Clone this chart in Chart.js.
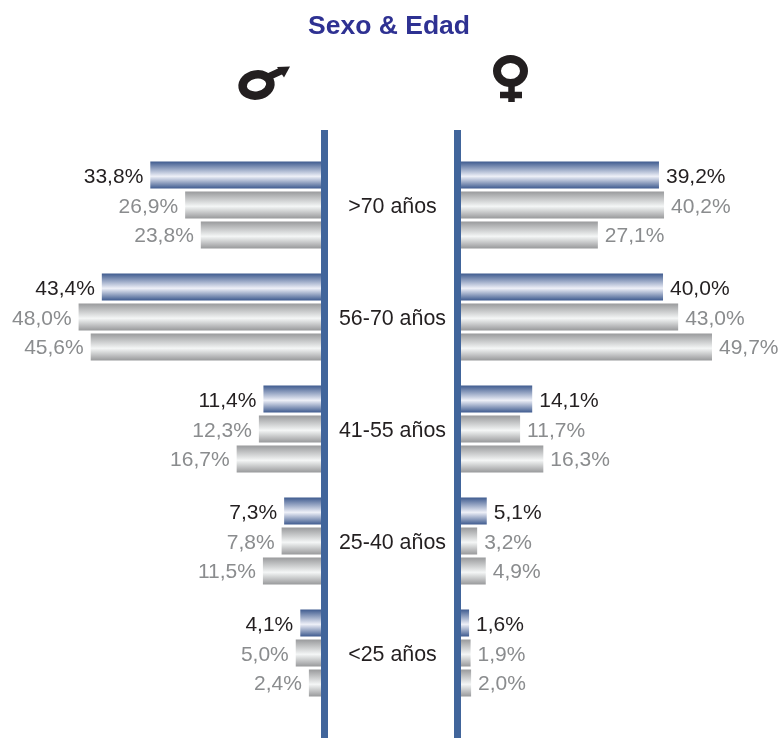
<!DOCTYPE html>
<html>
<head>
<meta charset="utf-8">
<script src="https://cdn.jsdelivr.net/npm/chart.js@4/dist/chart.umd.min.js"></script>
<style>
    html, body { margin: 0; padding: 0; background: #fff; }
    #page { position: relative; width: 782px; height: 738px; overflow: hidden; }
    #title {
        position: absolute; left: 0; width: 778px; top: 10px; text-align: center;
        font: bold 26.5px "Liberation Sans", Arial, sans-serif; color: #2e3192;
    }
    canvas { position: absolute; top: 0; }
    #leftChart { left: 0; }
    #rightChart { left: 328px; }
    svg { position: absolute; left: 0; top: 0; }
</style>
</head>
<body>
<div id="page">
    <canvas id="leftChart" width="328" height="738"></canvas>
    <canvas id="rightChart" width="454" height="738"></canvas>
    <div id="title">Sexo &amp; Edad</div>
    <!-- male and female symbols -->
    <svg width="782" height="120" fill="none" stroke="#231f20" aria-label="Hombres y mujeres">
        <ellipse cx="256.5" cy="85" rx="14" ry="10.5" stroke-width="8.5" transform="rotate(-10 256.5 85)"/>
        <path d="M268 77 L281 71" stroke-width="7"/>
        <path d="M290 66.5 L277 67 L284 77.5 Z" fill="#231f20" stroke="none"/>
        <ellipse cx="510.5" cy="71" rx="13.5" ry="12" stroke-width="8"/>
        <path d="M511.5 84 V102 M500 95 H522" stroke-width="6.5"/>
    </svg>
</div>

<script>
const categories = ['>70 años', '56-70 años', '41-55 años', '25-40 años', '<25 años'];
const seriesNames = ['Serie 1', 'Serie 2', 'Serie 3'];

const maleSerie1 = [33.8, 43.4, 11.4, 7.3, 4.1];
const maleSerie2 = [26.9, 48.0, 12.3, 7.8, 5.0];
const maleSerie3 = [23.8, 45.6, 16.7, 11.5, 2.4];

const femaleSerie1 = [39.2, 40.0, 14.1, 5.1, 1.6];
const femaleSerie2 = [40.2, 43.0, 11.7, 3.2, 1.9];
const femaleSerie3 = [27.1, 49.7, 16.3, 4.9, 2.0];

const AXIS_MAX = 63.56;
const AXIS_COLOR = '#41659b';
const FONT = '"Liberation Sans", Arial, sans-serif';

// Each bar gets its own vertical gradient, bright band just below the middle
function barGradient(context) {
    const chart = context.chart;
    const yScale = chart.scales.y;
    if (!yScale) return '#999';
    const isBlue = context.datasetIndex === 0;
    const centre = yScale.getPixelForValue(context.dataIndex) + (context.datasetIndex - 1) * 30;
    // options also get resolved once before the first layout
    if (!isFinite(centre)) return '#999';
    const g = chart.ctx.createLinearGradient(0, centre - 13.5, 0, centre + 13.5);
    if (isBlue) {
        g.addColorStop(0, '#3f5b8f');
        g.addColorStop(0.55, '#eef0f8');
        g.addColorStop(1, '#3f5b8f');
    } else {
        g.addColorStop(0, '#999a9c');
        g.addColorStop(0.55, '#f4f6f6');
        g.addColorStop(1, '#98999b');
    }
    return g;
}

// Vertical blue line and the percentage label beside each bar
const decorations = {
    id: 'decorations',
    afterDatasetsDraw(chart) {
        const ctx = chart.ctx;
        const reversed = chart.options.scales.x.reverse;
        const zero = chart.scales.x.getPixelForValue(0);

        ctx.save();
        ctx.fillStyle = AXIS_COLOR;
        ctx.fillRect(reversed ? zero : zero - 7, 130, 7, 608);

        ctx.font = '21px ' + FONT;
        ctx.textBaseline = 'middle';
        ctx.textAlign = reversed ? 'right' : 'left';
        chart.data.datasets.forEach((dataset, i) => {
            ctx.fillStyle = i === 0 ? '#231f20' : '#8a8c8e';
            chart.getDatasetMeta(i).data.forEach((bar, j) => {
                const label = dataset.data[j].toFixed(1).replace('.', ',') + '%';
                ctx.fillText(label, bar.x + (reversed ? -7 : 7), bar.y + (i === 2 ? 1 : 2));
            });
        });
        ctx.restore();
    }
};

function buildDatasets(values) {
    return values.map((data, i) => ({
        label: seriesNames[i],
        data: data,
        backgroundColor: barGradient,
        categoryPercentage: 0.8036,
        barPercentage: 0.9
    }));
}

function buildChart(id, values, isLeft) {
    return new Chart(document.getElementById(id), {
        type: 'bar',
        data: { labels: categories, datasets: buildDatasets(values) },
        options: {
            indexAxis: 'y',
            responsive: false,
            animation: false,
            layout: { padding: { top: 149, bottom: 29, left: 0, right: isLeft ? 7 : 0 } },
            plugins: { legend: { display: false }, tooltip: { enabled: false } },
            scales: {
                x: { display: false, reverse: isLeft, min: 0, max: AXIS_MAX },
                y: {
                    display: !isLeft,
                    afterFit(scale) { scale.width = isLeft ? 0 : 133; },
                    border: { display: false },
                    grid: { display: false },
                    ticks: {
                        crossAlign: 'center',
                        padding: 7,
                        labelOffset: 2,
                        color: '#231f20',
                        font: { family: FONT, size: 21.4 }
                    }
                }
            }
        },
        plugins: [decorations]
    });
}

buildChart('leftChart', [maleSerie1, maleSerie2, maleSerie3], true);
buildChart('rightChart', [femaleSerie1, femaleSerie2, femaleSerie3], false);
</script>
</body>
</html>
